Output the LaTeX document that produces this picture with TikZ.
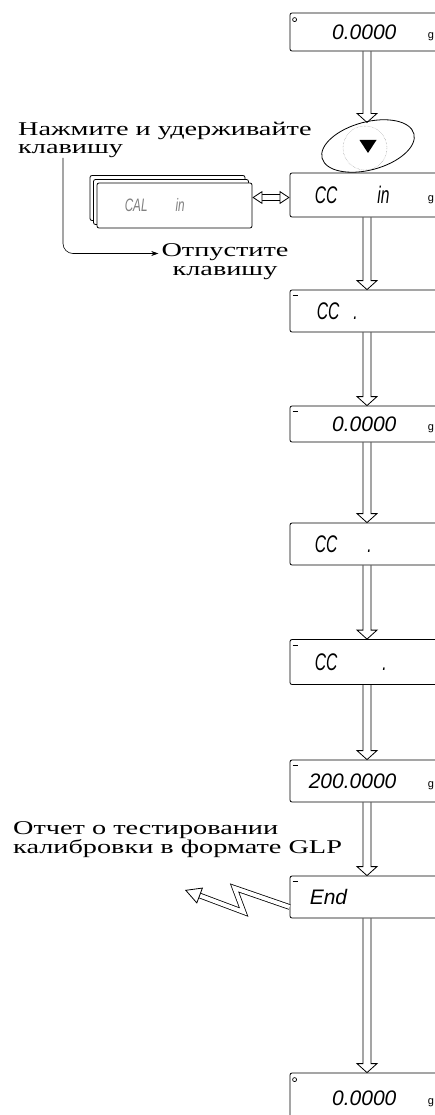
\documentclass[tikz,border=0pt]{standalone}
\usepackage{fontspec}
\setmainfont{Liberation Serif}[FakeStretch=1.45]
\newfontfamily\lcdfont{Liberation Sans}
\newfontfamily\lcdnarrow{Liberation Sans}[FakeStretch=0.65]
\usetikzlibrary{arrows.meta}
\usetikzlibrary{calc}
\usetikzlibrary{positioning}
\usetikzlibrary{shapes.geometric}
\tikzstyle{dispnode} = [draw, rounded corners=2pt, line width=0.8pt, minimum width=180pt, minimum height=42pt]
\tikzstyle{calnode} = [dispnode, fill=white, minimum width=155pt, minimum height=45pt]
\tikzstyle{lcdtext} = [inner sep=0pt, font=\lcdfont\itshape\fontsize{21}{21}\selectfont]
\tikzstyle{lcdword} = [inner sep=0pt, font=\lcdnarrow\itshape\fontsize{24}{24}\selectfont]
\tikzstyle{unittext} = [inner sep=0pt, font=\lcdfont\fontsize{11}{11}\selectfont]
\tikzstyle{labeltext} = [inner sep=0pt, align=left, font=\fontsize{19.5}{18.5}\selectfont]
\tikzstyle{flowline} = [draw, line width=0.8pt, line join=miter]
\tikzstyle{flowarrow} = [double, line width=0.8pt, line join=miter]
% hollow down arrow between two points
\newcommand{\flowdown}[2]{%
  \draw[flowline] ($#1+(-4,0)$) -- ($#2+(-4,-9)$) -- ($#2+(-10,-9)$) -- #2
    -- ($#2+(10,-9)$) -- ($#2+(4,-9)$) -- ($#1+(4,0)$);}

\begin{document}
\begin{tikzpicture}[x=1pt, y=-1pt]
  \useasboundingbox (0,0) rectangle (435,1115);
  \clip (0,0) rectangle (435,1115);

  % displays, main column
  \node[dispnode, minimum height=38pt] (d1) at (380,32) {};
  \node[dispnode, minimum height=44pt] (d2) at (380,195) {};
  \node[dispnode] (d3) at (380,311) {};
  \node[dispnode, minimum height=36pt] (d4) at (380,424) {};
  \node[dispnode] (d5) at (380,544) {};
  \node[dispnode, minimum height=45pt] (d6) at (380,662) {};
  \node[dispnode] (d7) at (380,781) {};
  \node[dispnode] (d8) at (380,897) {};
  \node[dispnode, minimum height=50pt] (d9) at (380,1098) {};

  % key
  \node[draw, ellipse, line width=0.8pt, minimum width=95pt, minimum height=48pt, rotate=15] (key) at (368,146) {};
  \node[draw, circle, densely dotted, gray, minimum size=44pt] (ring) at (365,148) {};
  \fill ([shift={(-8.5,-6)}]key.center) -- ++(17,0) -- ++(-8.5,13) -- cycle;

  % CAL stack
  \node[calnode] (cal3) at (167.5,198) {};
  \node[calnode] (cal2) at (171,202) {};
  \node[calnode] (cal1) at (174.5,205.5) {};
  \node[lcdword, gray, font=\lcdnarrow\itshape\fontsize{18}{18}\selectfont, right=28pt of cal1.west] (calt) {CAL\hspace{28pt}in};

  % display texts
  \node[lcdtext, anchor=east] (t1) at ([xshift=107pt]d1.west) {0.0000};
  \node[lcdword, right=25pt of d2.west] (t2) {CC\hspace{40pt}in};
  \node[lcdword, right=27pt of d3.west] (t3) {CC\hspace{14pt}.};
  \node[lcdtext, anchor=east] (t4) at ([xshift=107pt]d4.west) {0.0000};
  \node[lcdword, right=25pt of d5.west] (t5) {CC\hspace{30pt}.};
  \node[lcdword, right=25pt of d6.west] (t6) {CC\hspace{45pt}.};
  \node[lcdtext, anchor=east] (t7) at ([xshift=107pt]d7.west) {200.0000};
  \node[lcdtext, right=20pt of d8.west] (t8) {End};
  \node[lcdtext, anchor=east] (t9) at ([xshift=107pt]d9.west) {0.0000};

  \node[unittext, anchor=west] (g1) at ([shift={(138,5)}]d1.west) {g};
  \node[unittext, anchor=west] (g2) at ([shift={(138,5)}]d2.west) {g};
  \node[unittext, anchor=west] (g4) at ([shift={(138,5)}]d4.west) {g};
  \node[unittext, anchor=west] (g7) at ([shift={(138,5)}]d7.west) {g};
  \node[unittext, anchor=west] (g9) at ([shift={(138,5)}]d9.west) {g};

  % segment marks
  \draw[line width=0.7pt] ([shift={(5,7)}]d1.north west) circle (2pt);
  \draw[line width=0.7pt] ([shift={(5,7)}]d9.north west) circle (2pt);
  \draw[line width=1pt] ([shift={(3,6)}]d3.north west) -- ++(5,0);
  \draw[line width=1pt] ([shift={(3,6)}]d4.north west) -- ++(5,0);
  \draw[line width=1pt] ([shift={(3,6)}]d6.north west) -- ++(5,0);
  \draw[line width=1pt] ([shift={(3,6)}]d7.north west) -- ++(5,0);
  \draw[line width=1pt] ([shift={(3,6)}]d8.north west) -- ++(5,0);

  % labels
  \node[labeltext, anchor=north west] (hold) at (18,121.5) {Нажмите и удерживайте\\клавишу};
  \node[labeltext, align=center, anchor=north, inner xsep=3pt] (release) at (225,243.5) {Отпустите\\клавишу};
  \node[labeltext, anchor=north west] (glptext) at (13,821.5) {Отчет о тестировании\\калибровки в формате GLP};
  \coordinate (glp) at (185,890);

  % arrows
  \flowdown{([xshift=-13pt]d1.south)}{([xshift=-13pt]d1.south |- key.north)}
  \flowdown{([xshift=-13pt]d2.south)}{([xshift=-13pt]d3.north)}
  \flowdown{([xshift=-13pt]d3.south)}{([xshift=-13pt]d4.north)}
  \flowdown{([xshift=-13pt]d4.south)}{([xshift=-13pt]d5.north)}
  \flowdown{([xshift=-13pt]d5.south)}{([xshift=-13pt]d6.north)}
  \flowdown{([xshift=-13pt]d6.south)}{([xshift=-13pt]d7.north)}
  \flowdown{([xshift=-13pt]d7.south)}{([xshift=-13pt]d8.north)}
  \flowdown{([xshift=-13pt]d8.south)}{([xshift=-13pt]d9.north)}
  \draw[flowarrow, double distance=5pt, {Triangle[width=13pt, length=10pt, fill=white]}-{Triangle[width=13pt, length=10pt, fill=white]}]
    ([yshift=8pt]cal1.east) -- ([yshift=8pt]cal1.east -| d2.west);
  \draw[flowarrow, double distance=4pt, -{Triangle[width=17pt, length=16pt, fill=white]}]
    ([yshift=-10pt]d8.west) -- ++(-55,-19) -- ++(9,24) -- (glp);
  \draw[-{Stealth[length=7pt, width=5pt]}, line width=0.6pt, rounded corners=10pt]
    ([xshift=45pt]hold.south west) |- ([yshift=-10pt]release.north west);
\end{tikzpicture}
\end{document}
